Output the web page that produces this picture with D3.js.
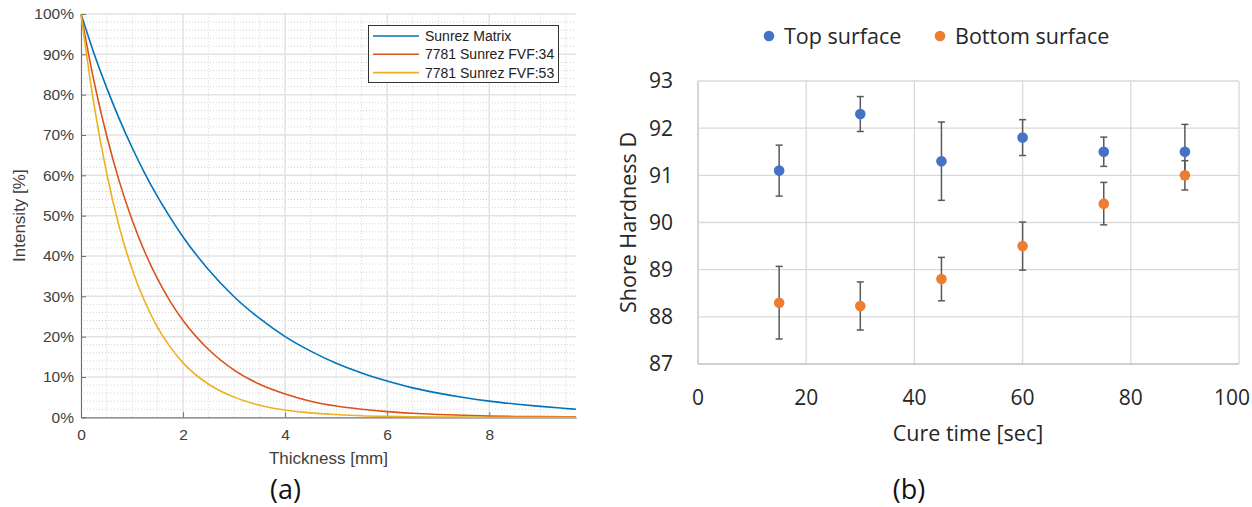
<!DOCTYPE html>
<html><head><meta charset="utf-8">
<script src="https://cdn.jsdelivr.net/npm/d3@7"></script>
<style>body{margin:0;background:#fff;}svg{display:block;}</style>
</head><body>
<svg id="c" width="1252" height="507"></svg>
<script>
// ---- Left chart data (a) ----
const thickness = [0,0.25,0.5,0.75,1,1.25,1.5,1.75,2,2.5,3,3.5,4,4.5,5,5.5,6,6.5,7,7.5,8,8.5,9,9.5,9.7];
const sunrezMatrix = [100,90.4,81.8,74.0,66.9,60.5,54.7,49.5,44.7,36.6,29.9,24.5,20.0,16.4,13.4,11.0,9.0,7.3,6.0,4.9,4.0,3.3,2.7,2.2,2.0];
const fvf34 = [100,83.6,70.0,58.5,49.0,41.0,34.3,28.7,24.0,16.8,11.7,8.2,5.8,4.0,2.8,2.0,1.4,1.0,0.7,0.5,0.3,0.2,0.16,0.11,0.1];
const fvf53 = [100,77.9,60.7,47.2,36.8,28.7,22.3,17.4,13.5,8.2,5.0,3.0,1.8,1.1,0.7,0.4,0.25,0.15,0.09,0.06,0.03,0.02,0.01,0.01,0.01];
const seriesNamesA = ["Sunrez Matrix","7781 Sunrez FVF:34","7781 Sunrez FVF:53"];
const xTicksA = [0,2,4,6,8];
const yTicksA = [0,10,20,30,40,50,60,70,80,90,100];

// ---- Right chart data (b) ----
const cureTime = [15,30,45,60,75,90];
const topSurface = [91.1,92.3,91.3,91.8,91.5,91.5];
const topErr = [0.54,0.37,0.83,0.38,0.31,0.58];
const bottomSurface = [88.3,88.23,88.8,89.5,90.4,91.0];
const bottomErr = [0.77,0.51,0.46,0.51,0.45,0.31];
const xTicksB = [0,20,40,60,80,100];
const yTicksB = [87,88,89,90,91,92,93];

const svg = d3.select("#c");

// ================= Chart (a) =================
const fA = "'Liberation Sans', Arial, sans-serif";
const xA = d3.scaleLinear().domain([0,9.7]).range([81,576]);
const yA = d3.scaleLinear().domain([0,100]).range([417.3,14]);
const gA = svg.append("g");

// minor grid
d3.range(0.5,9.7,0.5).filter(v=>v%2!==0).forEach(v=>{
  gA.append("line").attr("x1",xA(v)).attr("x2",xA(v)).attr("y1",yA(0)).attr("y2",yA(100))
    .attr("stroke","#d2d2d2").attr("stroke-width",1).attr("stroke-dasharray","1,2");
});
d3.range(2,100,2).filter(v=>v%10!==0).forEach(v=>{
  gA.append("line").attr("x1",xA(0)).attr("x2",xA(9.7)).attr("y1",yA(v)).attr("y2",yA(v))
    .attr("stroke","#d2d2d2").attr("stroke-width",1).attr("stroke-dasharray","1,2");
});
// major grid
xTicksA.filter(v=>v>0).forEach(v=>{
  gA.append("line").attr("x1",xA(v)).attr("x2",xA(v)).attr("y1",yA(0)).attr("y2",yA(100))
    .attr("stroke","#e2e2e2").attr("stroke-width",1.5);
});
yTicksA.filter(v=>v>0).forEach(v=>{
  gA.append("line").attr("x1",xA(0)).attr("x2",xA(9.7)).attr("y1",yA(v)).attr("y2",yA(v))
    .attr("stroke","#e2e2e2").attr("stroke-width",1.5);
});

// axes
const axLeftA = d3.axisLeft(yA).tickValues(yTicksA).tickSizeInner(-5).tickSizeOuter(0).tickPadding(7).tickFormat(d=>d+"%");
const axBotA = d3.axisBottom(xA).tickValues(xTicksA).tickSizeInner(-5).tickSizeOuter(0).tickPadding(12).tickFormat(d3.format("d"));
const gyA = gA.append("g").attr("transform",`translate(${xA(0)},0)`).call(axLeftA);
const gxA = gA.append("g").attr("transform",`translate(0,${yA(0)})`).call(axBotA);
[gyA,gxA].forEach(g=>{
  g.select(".domain").attr("stroke","#707070").attr("stroke-width",1.2);
  g.selectAll(".tick line").attr("stroke","#707070");
  g.selectAll(".tick text").attr("fill","#404040").style("font-family",fA).style("font-size","15.5px");
});

// lines
const colorsA = ["#0072BD","#D95319","#EDB120"];
const dataA = [sunrezMatrix,fvf34,fvf53];
const lineA = d3.line().x((d,i)=>xA(thickness[i])).y(d=>yA(d)).curve(d3.curveMonotoneX);
dataA.forEach((s,k)=>{
  gA.append("path").datum(s).attr("d",lineA).attr("fill","none")
    .attr("stroke",colorsA[k]).attr("stroke-width",1.6);
});

// legend
const lg = gA.append("g");
lg.append("rect").attr("x",368.5).attr("y",25.5).attr("width",190).attr("height",57)
  .attr("fill","#fff").attr("stroke","#333").attr("stroke-width",1);
seriesNamesA.forEach((n,k)=>{
  const yy = 36 + k*18.3;
  lg.append("line").attr("x1",373).attr("x2",419).attr("y1",yy).attr("y2",yy)
    .attr("stroke",colorsA[k]).attr("stroke-width",1.6);
  lg.append("text").attr("x",425).attr("y",yy).attr("dy","0.35em").text(n)
    .style("font-family",fA).style("font-size","14px").attr("fill","#222");
});

// axis titles
gA.append("text").attr("x",(xA(0)+xA(9.7))/2).attr("y",458).attr("dy","0.35em")
  .attr("text-anchor","middle").text("Thickness [mm]")
  .style("font-family",fA).style("font-size","17px").attr("fill","#404040");
gA.append("text").attr("transform",`translate(19,${(yA(0)+yA(100))/2}) rotate(-90)`)
  .attr("text-anchor","middle").attr("dy","0.35em").text("Intensity [%]")
  .style("font-family",fA).style("font-size","17px").attr("fill","#404040");
gA.append("text").attr("x",285.5).attr("y",490).attr("dy","0.35em").attr("text-anchor","middle")
  .text("(a)").style("font-family","'Open Sans', sans-serif").style("font-size","27px").attr("fill","#111");

// ================= Chart (b) =================
const fB = "'Open Sans', sans-serif";
const xB = d3.scaleLinear().domain([0,100]).range([698,1239]);
const yB = d3.scaleLinear().domain([87,93]).range([364,81]);
const gB = svg.append("g");

// grid
xTicksB.forEach(v=>{
  gB.append("line").attr("x1",xB(v)).attr("x2",xB(v)).attr("y1",yB(87)).attr("y2",yB(93))
    .attr("stroke",v===0?"#bfbfbf":"#d9d9d9").attr("stroke-width",1.3);
});
yTicksB.forEach(v=>{
  gB.append("line").attr("x1",xB(0)).attr("x2",xB(100)).attr("y1",yB(v)).attr("y2",yB(v))
    .attr("stroke",v===87?"#bfbfbf":"#d9d9d9").attr("stroke-width",1.3);
});

// tick labels
gB.selectAll("text.xt").data(xTicksB).join("text").attr("class","xt")
  .attr("x",d=>d===100?1250:xB(d)).attr("y",398).attr("dy","0.35em")
  .attr("text-anchor",d=>d===100?"end":"middle")
  .text(d=>d).style("font-family",fB).style("font-size","21px").attr("fill","#262626");
gB.selectAll("text.yt").data(yTicksB).join("text").attr("class","yt")
  .attr("x",673).attr("y",d=>yB(d)).attr("dy","0.35em").attr("text-anchor","end")
  .text(d=>d).style("font-family",fB).style("font-size","21px").attr("fill","#262626");

// error bars & points
const series = [
  {vals:topSurface, err:topErr, color:"#4472C4"},
  {vals:bottomSurface, err:bottomErr, color:"#ED7D31"}
];
series.forEach(s=>{
  const ge = gB.append("g");
  cureTime.forEach((t,i)=>{
    const x = xB(t), y1 = yB(s.vals[i]+s.err[i]), y2 = yB(s.vals[i]-s.err[i]);
    ge.append("line").attr("x1",x).attr("x2",x).attr("y1",y1).attr("y2",y2).attr("stroke","#595959").attr("stroke-width",1.5);
    [y1,y2].forEach(yy=>ge.append("line").attr("x1",x-3.5).attr("x2",x+3.5).attr("y1",yy).attr("y2",yy).attr("stroke","#595959").attr("stroke-width",1.5));
  });
});
series.forEach(s=>{
  gB.append("g").selectAll("circle").data(s.vals).join("circle")
    .attr("cx",(d,i)=>xB(cureTime[i])).attr("cy",d=>yB(d)).attr("r",5.3).attr("fill",s.color);
});

// legend
const legB = [{name:"Top surface",color:"#4472C4",x:769},{name:"Bottom surface",color:"#ED7D31",x:940}];
legB.forEach(l=>{
  gB.append("circle").attr("cx",l.x).attr("cy",36).attr("r",5.3).attr("fill",l.color);
  gB.append("text").attr("x",l.x+15).attr("y",36).attr("dy","0.35em").text(l.name)
    .style("font-family",fB).style("font-size","21.5px").attr("fill","#262626");
});

// titles
gB.append("text").attr("x",968).attr("y",433).attr("dy","0.35em").attr("text-anchor","middle")
  .text("Cure time [sec]").style("font-family",fB).style("font-size","21.5px").attr("fill","#262626");
gB.append("text").attr("transform",`translate(628,${(yB(87)+yB(93))/2}) rotate(-90)`)
  .attr("dy","0.35em").attr("text-anchor","middle").text("Shore Hardness D")
  .style("font-family",fB).style("font-size","21.5px").attr("fill","#262626");
gB.append("text").attr("x",909).attr("y",490).attr("dy","0.35em").attr("text-anchor","middle")
  .text("(b)").style("font-family",fB).style("font-size","27px").attr("fill","#111");
</script>
</body></html>
